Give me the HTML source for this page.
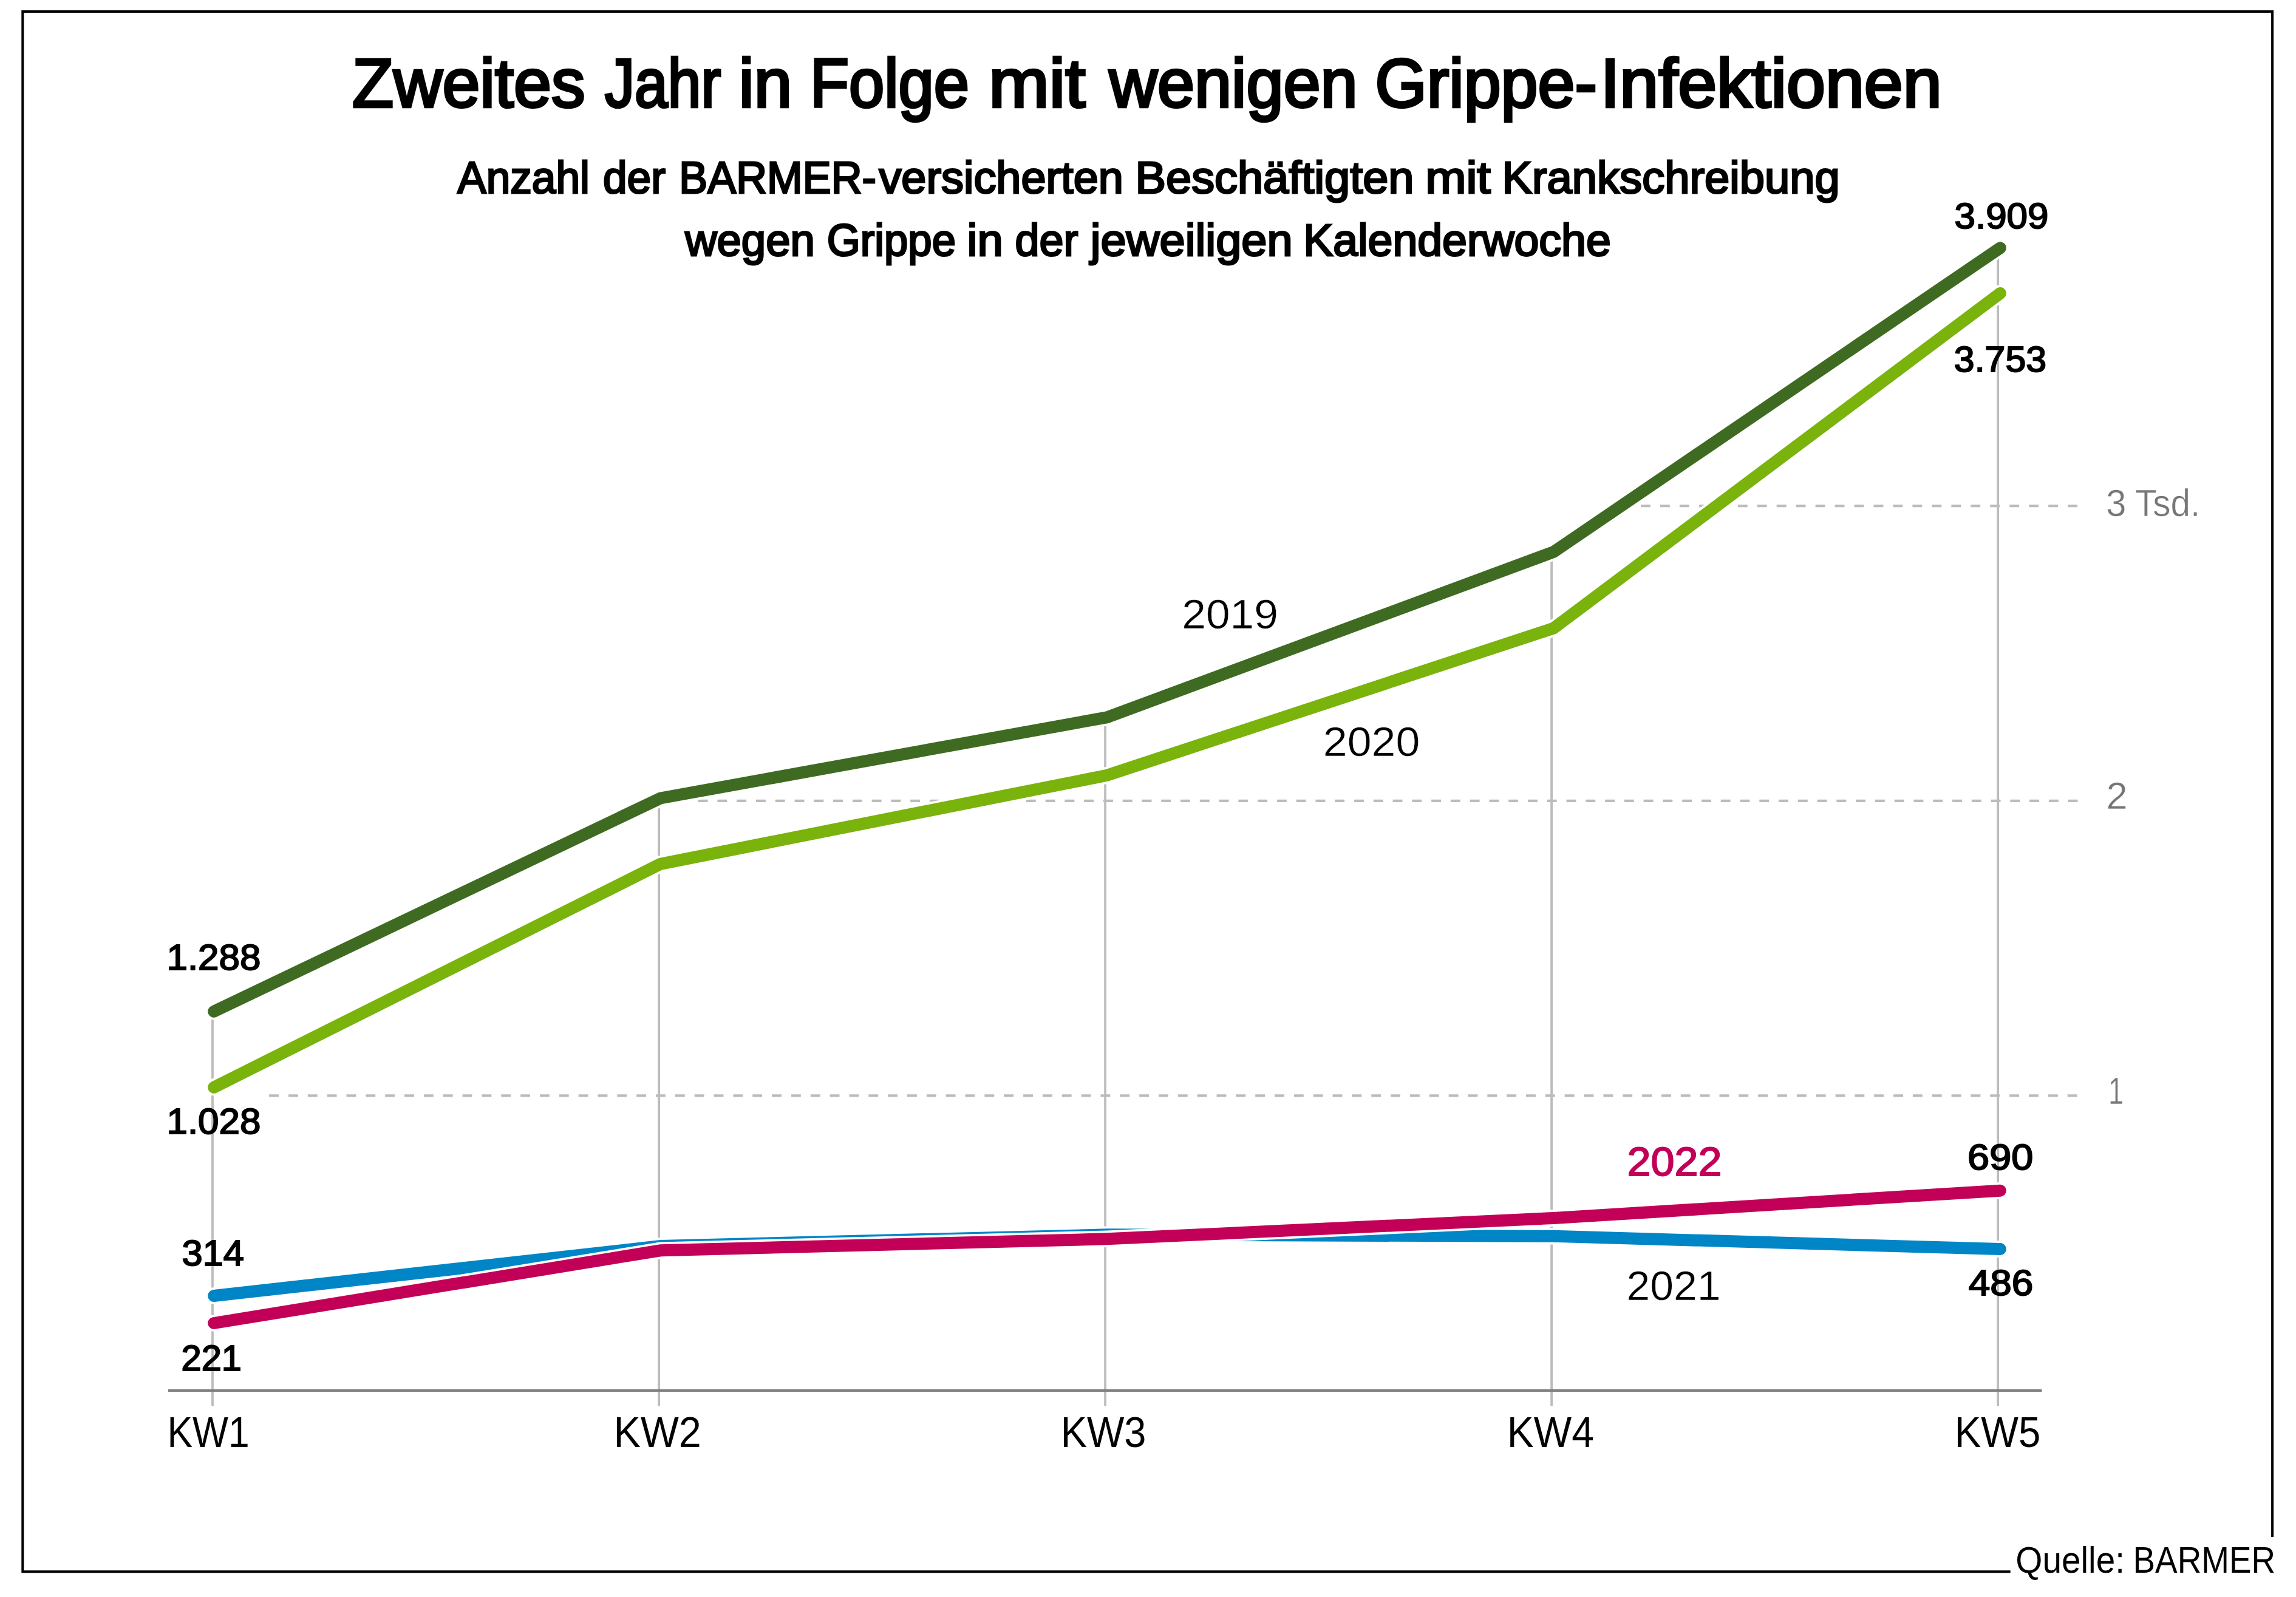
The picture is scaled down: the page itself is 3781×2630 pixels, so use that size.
<!DOCTYPE html>
<html lang="de"><head><meta charset="utf-8"><title>Zweites Jahr in Folge mit wenigen Grippe-Infektionen</title>
<style>html,body{margin:0;padding:0;background:#fff}svg{display:block}text{font-family:"Liberation Sans", sans-serif}</style></head>
<body>
<svg width="3781" height="2630" viewBox="0 0 3781 2630">
<rect width="3781" height="2630" fill="#fff"/>
<path d="M3310.7 2588.35 H37.3 V19 H3742.1 V2531" fill="none" stroke="#000" stroke-width="4"/>
<line x1="350" y1="1665.7" x2="350" y2="2315.6" stroke="#bcbcbc" stroke-width="3.8"/>
<line x1="1085.1" y1="1314.5" x2="1085.1" y2="2315.6" stroke="#bcbcbc" stroke-width="3.8"/>
<line x1="1820.1" y1="1181.3" x2="1820.1" y2="2315.6" stroke="#bcbcbc" stroke-width="3.8"/>
<line x1="2555.1" y1="908.9" x2="2555.1" y2="2315.6" stroke="#bcbcbc" stroke-width="3.8"/>
<line x1="3290.2" y1="408.2" x2="3290.2" y2="2315.6" stroke="#bcbcbc" stroke-width="3.8"/>
<line x1="3421" y1="833.2" x2="2701.9" y2="833.2" stroke="#bcbcbc" stroke-width="4.2" stroke-dasharray="15.9 16.06"/>
<line x1="3421.6" y1="1318.9" x2="1140" y2="1318.9" stroke="#bcbcbc" stroke-width="4.2" stroke-dasharray="15.9 15.875"/>
<line x1="3420.6" y1="1804.3" x2="443.1" y2="1804.3" stroke="#bcbcbc" stroke-width="4.2" stroke-dasharray="15.9 15.945"/>
<line x1="277" y1="2290" x2="3362.5" y2="2290" stroke="#7f7f7f" stroke-width="4.2"/>
<polyline points="352.2,1665.7 1087.6,1314.5 1823.0,1181.3 2558.5,908.9 3293.9,408.2" fill="none" stroke="#fff" stroke-width="27.6" stroke-linecap="round" stroke-linejoin="miter"/>
<polyline points="352.2,1665.7 1087.6,1314.5 1823.0,1181.3 2558.5,908.9 3293.9,408.2" fill="none" stroke="#3e6b21" stroke-width="20" stroke-linecap="round" stroke-linejoin="miter"/>
<polyline points="352.2,1790.7 1087.6,1422.9 1823.0,1276.8 2558.5,1034.6 3293.9,483" fill="none" stroke="#fff" stroke-width="27.6" stroke-linecap="round" stroke-linejoin="miter"/>
<polyline points="352.2,1790.7 1087.6,1422.9 1823.0,1276.8 2558.5,1034.6 3293.9,483" fill="none" stroke="#79b30c" stroke-width="20" stroke-linecap="round" stroke-linejoin="miter"/>
<polyline points="352.2,2134 1087.6,2052 1823.0,2033.3 2558.5,2035.8 3293.9,2057" fill="none" stroke="#fff" stroke-width="27.6" stroke-linecap="round" stroke-linejoin="miter"/>
<polyline points="352.2,2134 1087.6,2052 1823.0,2033.3 2558.5,2035.8 3293.9,2057" fill="none" stroke="#0085c7" stroke-width="20" stroke-linecap="round" stroke-linejoin="miter"/>
<polyline points="352.2,2179 1087.6,2059.3 1823.0,2040.3 2558.5,2006 3293.9,1960.7" fill="none" stroke="#fff" stroke-width="27.6" stroke-linecap="round" stroke-linejoin="miter"/>
<polyline points="352.2,2179 1087.6,2059.3 1823.0,2040.3 2558.5,2006 3293.9,1960.7" fill="none" stroke="#c20058" stroke-width="20" stroke-linecap="round" stroke-linejoin="miter"/>
<text id="title" y="175.70" font-size="112.46" font-weight="normal" fill="#000" stroke="#000" stroke-width="4.4" stroke-linejoin="miter"><tspan x="579.99" textLength="383.63" lengthAdjust="spacingAndGlyphs">Zweites</tspan> <tspan x="995.90" textLength="191.30" lengthAdjust="spacingAndGlyphs">Jahr</tspan> <tspan x="1216.84" textLength="87.44" lengthAdjust="spacingAndGlyphs">in</tspan> <tspan x="1333.98" textLength="262.09" lengthAdjust="spacingAndGlyphs">Folge</tspan> <tspan x="1628.31" textLength="159.06" lengthAdjust="spacingAndGlyphs">mit</tspan> <tspan x="1826.61" textLength="409.00" lengthAdjust="spacingAndGlyphs">wenigen</tspan> <tspan x="2264.55" textLength="365.49" lengthAdjust="spacingAndGlyphs">Grippe-</tspan><tspan x="2635.40" textLength="562.32" lengthAdjust="spacingAndGlyphs">Infektionen</tspan></text>
<text id="sub1" y="318.40" font-size="74.49" font-weight="normal" fill="#000" stroke="#000" stroke-width="3.0" stroke-linejoin="miter"><tspan x="753.21" textLength="217.61" lengthAdjust="spacingAndGlyphs">Anzahl</tspan> <tspan x="992.98" textLength="103.02" lengthAdjust="spacingAndGlyphs">der</tspan> <tspan x="1118.33" textLength="324.71" lengthAdjust="spacingAndGlyphs">BARMER-</tspan><tspan x="1447.41" textLength="402.41" lengthAdjust="spacingAndGlyphs">versicherten</tspan> <tspan x="1869.51" textLength="458.96" lengthAdjust="spacingAndGlyphs">Beschäftigten</tspan> <tspan x="2347.20" textLength="107.57" lengthAdjust="spacingAndGlyphs">mit</tspan> <tspan x="2473.53" textLength="556.12" lengthAdjust="spacingAndGlyphs">Krankschreibung</tspan></text>
<text id="sub2" y="421.30" font-size="74.49" font-weight="normal" fill="#000" stroke="#000" stroke-width="3.0" stroke-linejoin="miter"><tspan x="1128.21" textLength="213.61" lengthAdjust="spacingAndGlyphs">wegen</tspan> <tspan x="1361.76" textLength="212.26" lengthAdjust="spacingAndGlyphs">Grippe</tspan> <tspan x="1592.53" textLength="59.24" lengthAdjust="spacingAndGlyphs">in</tspan> <tspan x="1671.38" textLength="104.01" lengthAdjust="spacingAndGlyphs">der</tspan> <tspan x="1795.70" textLength="333.00" lengthAdjust="spacingAndGlyphs">jeweiligen</tspan> <tspan x="2146.33" textLength="506.49" lengthAdjust="spacingAndGlyphs">Kalenderwoche</tspan></text>
<text id="v3909" y="376.10" font-size="58.63" font-weight="normal" fill="#000" stroke="#000" stroke-width="2.0" stroke-linejoin="miter"><tspan x="3218.59" textLength="154.86" lengthAdjust="spacingAndGlyphs">3.909</tspan></text>
<text id="v3753" y="612.00" font-size="58.63" font-weight="normal" fill="#000" stroke="#000" stroke-width="2.0" stroke-linejoin="miter"><tspan x="3217.89" textLength="152.14" lengthAdjust="spacingAndGlyphs">3.753</tspan></text>
<text id="v1288" y="1597.00" font-size="58.63" font-weight="normal" fill="#000" stroke="#000" stroke-width="2.0" stroke-linejoin="miter"><tspan x="274.46" textLength="155.00" lengthAdjust="spacingAndGlyphs">1.288</tspan></text>
<text id="v1028" y="1866.60" font-size="58.63" font-weight="normal" fill="#000" stroke="#000" stroke-width="2.0" stroke-linejoin="miter"><tspan x="274.46" textLength="155.00" lengthAdjust="spacingAndGlyphs">1.028</tspan></text>
<text id="v314" y="2083.80" font-size="58.63" font-weight="normal" fill="#000" stroke="#000" stroke-width="2.0" stroke-linejoin="miter"><tspan x="299.58" textLength="102.43" lengthAdjust="spacingAndGlyphs">314</tspan></text>
<text id="v221" y="2257.20" font-size="58.63" font-weight="normal" fill="#000" stroke="#000" stroke-width="2.0" stroke-linejoin="miter"><tspan x="298.51" textLength="99.55" lengthAdjust="spacingAndGlyphs">221</tspan></text>
<text id="v690" y="1925.50" font-size="58.63" font-weight="normal" fill="#000" stroke="#000" stroke-width="2.0" stroke-linejoin="miter"><tspan x="3240.12" textLength="108.12" lengthAdjust="spacingAndGlyphs">690</tspan></text>
<text id="v486" y="2132.90" font-size="58.63" font-weight="normal" fill="#000" stroke="#000" stroke-width="2.0" stroke-linejoin="miter"><tspan x="3241.79" textLength="106.55" lengthAdjust="spacingAndGlyphs">486</tspan></text>
<text id="y2019" y="1035.15" font-size="69.32" font-weight="normal" fill="#000" stroke="#fff" stroke-width="0.5"><tspan x="1946.21" textLength="158.76" lengthAdjust="spacingAndGlyphs">2019</tspan></text>
<text id="y2020" y="1244.85" font-size="69.32" font-weight="normal" fill="#000" stroke="#fff" stroke-width="0.5"><tspan x="2178.80" textLength="159.55" lengthAdjust="spacingAndGlyphs">2020</tspan></text>
<text id="y2022" y="1936.30" font-size="66.03" font-weight="normal" fill="#c20058" stroke="#c20058" stroke-width="1.8" stroke-linejoin="miter"><tspan x="2679.53" textLength="155.93" lengthAdjust="spacingAndGlyphs">2022</tspan></text>
<text id="y2021" y="2140.55" font-size="69.32" font-weight="normal" fill="#000" stroke="#fff" stroke-width="0.5"><tspan x="2678.44" textLength="155.14" lengthAdjust="spacingAndGlyphs">2021</tspan></text>
<text id="t3" y="850.15" font-size="63.71" font-weight="normal" fill="#767676" stroke="#fff" stroke-width="0.5"><tspan x="3468.32" textLength="33.14" lengthAdjust="spacingAndGlyphs">3</tspan> <tspan x="3515.89" textLength="107.31" lengthAdjust="spacingAndGlyphs">Tsd.</tspan></text>
<text id="t2" y="1331.95" font-size="63.31" font-weight="normal" fill="#767676" stroke="#fff" stroke-width="0.5"><tspan x="3468.53" textLength="35.13" lengthAdjust="spacingAndGlyphs">2</tspan></text>
<text id="t1" y="1817.95" font-size="63.31" font-weight="normal" fill="#767676" stroke="#fff" stroke-width="0.5"><tspan x="3471.97" textLength="25.25" lengthAdjust="spacingAndGlyphs">1</tspan></text>
<text id="kw1" y="2382.80" font-size="71.20" font-weight="normal" fill="#000"><tspan x="275.44" textLength="135.18" lengthAdjust="spacingAndGlyphs">KW1</tspan></text>
<text id="kw2" y="2382.80" font-size="71.20" font-weight="normal" fill="#000"><tspan x="1010.46" textLength="144.36" lengthAdjust="spacingAndGlyphs">KW2</tspan></text>
<text id="kw3" y="2382.80" font-size="71.20" font-weight="normal" fill="#000"><tspan x="1746.71" textLength="140.81" lengthAdjust="spacingAndGlyphs">KW3</tspan></text>
<text id="kw4" y="2382.80" font-size="71.20" font-weight="normal" fill="#000"><tspan x="2481.75" textLength="143.12" lengthAdjust="spacingAndGlyphs">KW4</tspan></text>
<text id="kw5" y="2382.80" font-size="71.20" font-weight="normal" fill="#000"><tspan x="3218.72" textLength="141.60" lengthAdjust="spacingAndGlyphs">KW5</tspan></text>
<text id="src" y="2590.00" font-size="62.00" font-weight="normal" fill="#000"><tspan x="3319.26" textLength="179.81" lengthAdjust="spacingAndGlyphs">Quelle:</tspan> <tspan x="3512.49" textLength="234.60" lengthAdjust="spacingAndGlyphs">BARMER</tspan></text>
</svg>
</body></html>
